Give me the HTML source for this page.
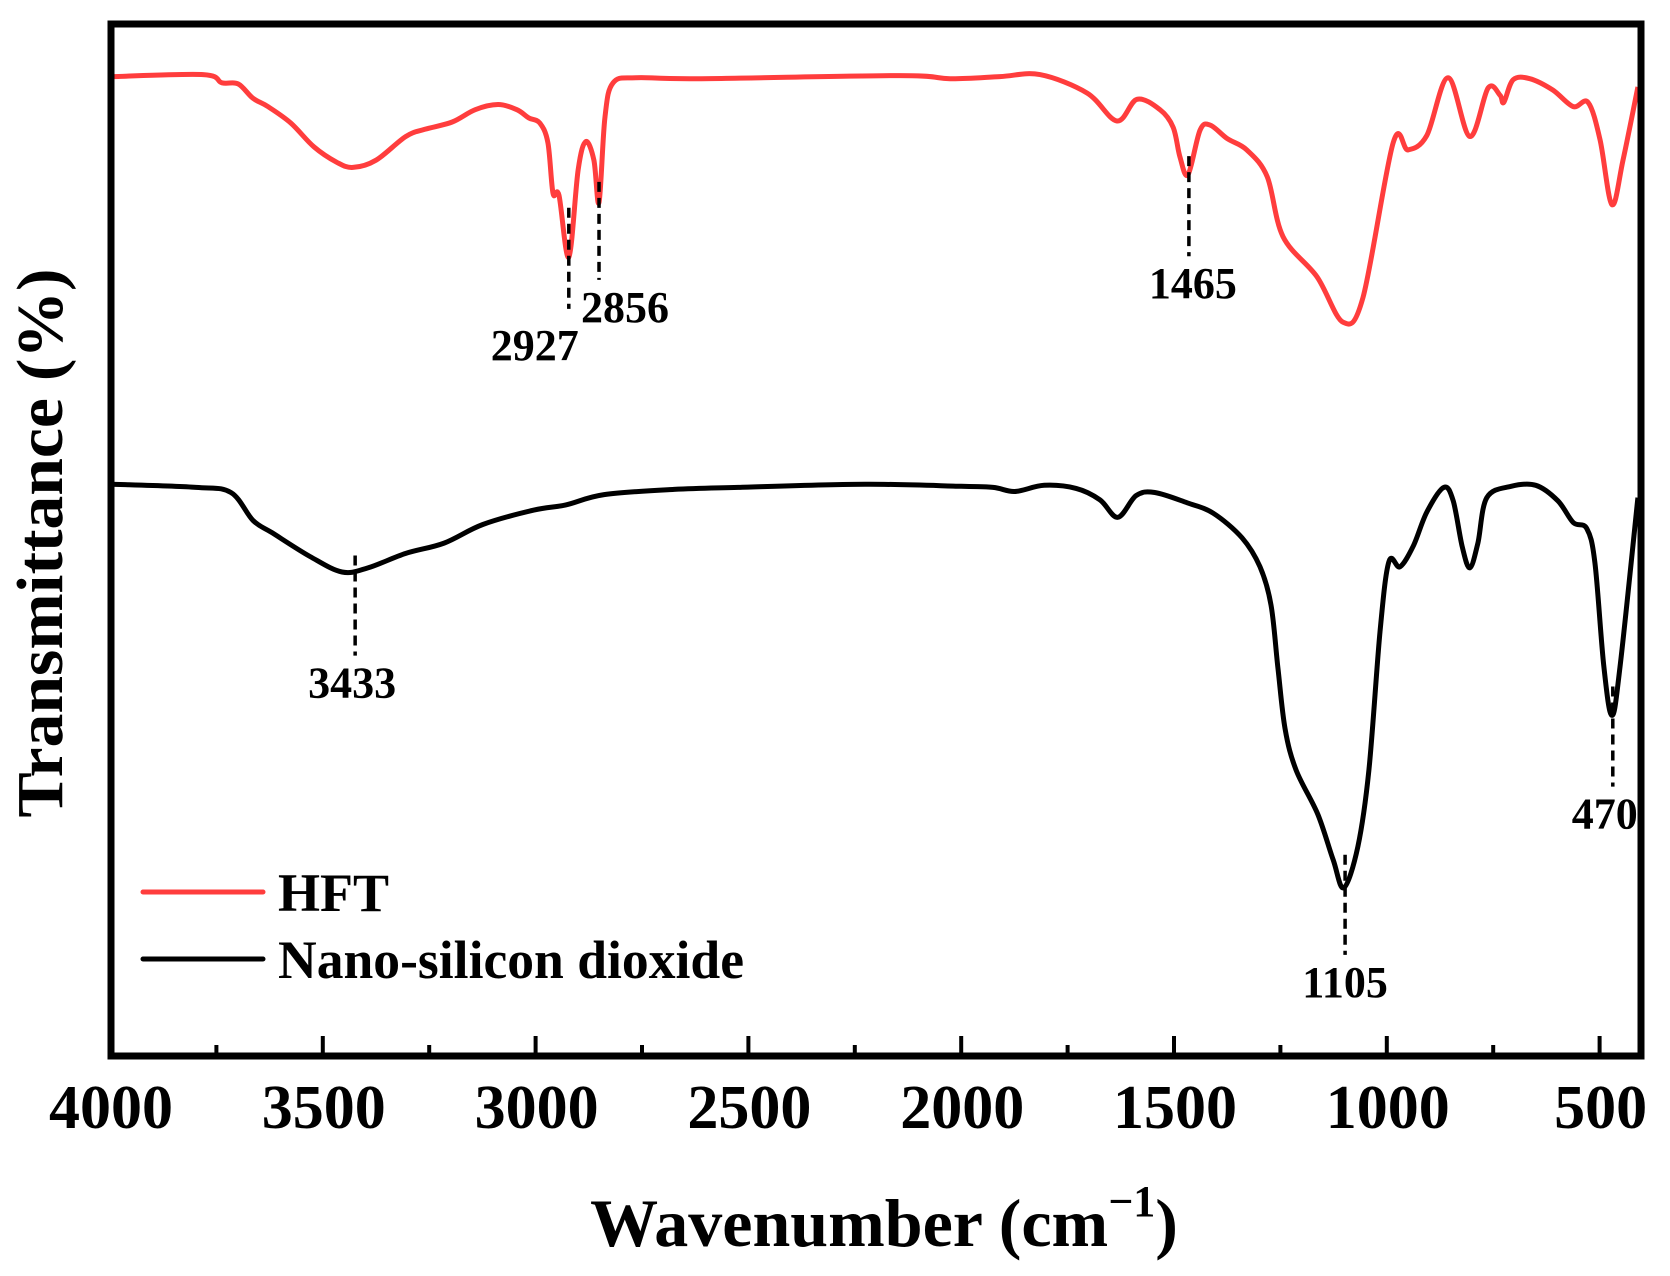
<!DOCTYPE html>
<html><head><meta charset="utf-8"><style>
html,body{margin:0;padding:0;background:#fff;}
svg{display:block;}
text{font-family:"Liberation Serif",serif;font-weight:bold;fill:#000;}
</style></head><body>
<svg id="chart" width="1670" height="1276" viewBox="0 0 1670 1276" xmlns="http://www.w3.org/2000/svg">
<defs><clipPath id="plotclip"><rect x="111" y="24" width="1530" height="1032"/></clipPath></defs>
<g id="ticks"></g>
<g id="ticklabels"></g>
<g id="series" clip-path="url(#plotclip)"></g>
<g id="annots"></g>
<rect x="111" y="24" width="1530" height="1032" fill="none" stroke="#000" stroke-width="7"/>
<text x="884" y="1246" text-anchor="middle" font-size="68">Wavenumber (cm<tspan font-size="44" dy="-30">−1</tspan><tspan dy="30">)</tspan></text>
<text transform="translate(62,543) rotate(-90)" text-anchor="middle" font-size="66" textLength="549" lengthAdjust="spacingAndGlyphs">Transmittance (%)</text>
<g>
<line x1="143" y1="892" x2="263" y2="892" stroke="#ff3d3d" stroke-width="5" stroke-linecap="round"/>
<text x="278" y="911" font-size="54">HFT</text>
<line x1="143" y1="959" x2="263" y2="959" stroke="#000" stroke-width="5" stroke-linecap="round"/>
<text x="278" y="978" font-size="54" textLength="466" lengthAdjust="spacingAndGlyphs">Nano-silicon dioxide</text>
</g>
</svg>
<script>
const tickMajor = [3500,3000,2500,2000,1500,1000,500];
const tickLabels = [4000,3500,3000,2500,2000,1500,1000,500];
const tickMinor = [3750,3250,2750,2250,1750,1250,750];
const hftWave = [3993,3781,3737,3699,3664,3629,3575,3521,3467,3429,3375,3305,3260,3196,3142,3088,3044,3016,2990,2971,2959,2945,2922,2900,2882,2863,2851,2837,2818,2764,2621,2144,2026,1909,1815,1704,1634,1587,1533,1502,1486,1467,1439,1415,1375,1329,1281,1244,1164,1103,1056,985,950,906,856,805,762,734,725,703,664,610,562,527,499,471,445,410];
const hftT = [94.9,95.1,94.3,94.2,92.8,92.0,90.4,88.1,86.6,86.1,86.8,89.1,89.8,90.5,91.7,92.2,91.7,90.9,90.4,88.5,83.6,83.4,77.4,85.9,88.6,86.8,82.7,91.0,94.3,94.8,94.7,95.0,94.7,94.9,95.1,93.3,90.6,92.7,91.7,90.0,87.1,85.4,89.7,90.2,88.9,87.8,85.2,79.4,75.5,71.1,73.5,88.5,87.8,89.2,94.8,89.1,93.8,93.1,92.4,94.6,94.7,93.6,92.0,92.4,88.8,82.5,86.8,93.9];
const nanoWave = [3993,3798,3716,3664,3619,3530,3455,3394,3305,3215,3124,3004,2929,2839,2675,2524,2226,2000,1925,1874,1805,1730,1674,1632,1589,1545,1469,1408,1340,1298,1272,1256,1239,1213,1162,1126,1101,1068,1042,1016,995,969,938,906,866,844,823,805,786,765,708,650,598,562,530,511,490,471,452,410];
const nanoT = [55.4,55.1,54.6,51.9,50.7,48.4,46.9,47.3,48.7,49.7,51.5,52.9,53.4,54.4,54.9,55.1,55.4,55.2,55.1,54.7,55.3,55.0,53.9,52.2,54.3,54.6,53.6,52.6,50.2,47.4,43.7,37.7,31.7,27.7,23.4,19.0,16.3,20.3,27.7,41.1,47.9,47.4,49.4,52.7,55.1,53.8,49.4,47.3,49.7,54.1,55.2,55.3,53.8,51.7,51.1,47.8,37.7,33.0,37.7,54.1];
const peakLabels = ["2927","2856","1465","3433","1105","470"];
const peakWave = [2922,2851,1465,3424,1098,469];
const peakTop = [82.2,84.7,87.2,48.5,19.5,35.8];
const peakBottom = [72.4,75.2,77.5,38.8,9.8,26.1];

const X = w => 110 + (4000 - w) * 0.4256;
const Y = v => 1056 - v * 10.32;
const NS = "http://www.w3.org/2000/svg";
function mk(tag, attrs, parent){const e=document.createElementNS(NS,tag);for(const k in attrs)e.setAttribute(k,attrs[k]);parent.appendChild(e);return e;}

const gT = document.getElementById('ticks');
tickMajor.forEach(w=>{const l=mk('line',{x1:X(w),x2:X(w),y1:1053,y2:1036,stroke:'#000','stroke-width':4},gT);

});
tickMinor.forEach(w=>{const l=mk('line',{x1:X(w),x2:X(w),y1:1053,y2:1045,stroke:'#000','stroke-width':4},gT);

});
const gL = document.getElementById('ticklabels');
tickLabels.forEach(w=>{const t=mk('text',{x:X(w)+1,y:1128,'text-anchor':'middle','font-size':62},gL);t.textContent=String(w);

});

function smooth(xs, ys){
  const p = xs.map((w,i)=>[X(w),Y(ys[i])]);
  let d = 'M'+p[0][0].toFixed(1)+','+p[0][1].toFixed(1);
  for(let i=0;i<p.length-1;i++){
    const p0=p[Math.max(0,i-1)],p1=p[i],p2=p[i+1],p3=p[Math.min(p.length-1,i+2)];
    const c1=[p1[0]+(p2[0]-p0[0])/6,p1[1]+(p2[1]-p0[1])/6];
    const c2=[p2[0]-(p3[0]-p1[0])/6,p2[1]-(p3[1]-p1[1])/6];
    d+='C'+c1[0].toFixed(1)+','+c1[1].toFixed(1)+' '+c2[0].toFixed(1)+','+c2[1].toFixed(1)+' '+p2[0].toFixed(1)+','+p2[1].toFixed(1);
  }
  return d;
}
const gS = document.getElementById('series');
const rp = mk('path',{d:smooth(hftWave,hftT),fill:'none',stroke:'#ff3d3d','stroke-width':5,'stroke-linejoin':'round'},gS);


const bp = mk('path',{d:smooth(nanoWave,nanoT),fill:'none',stroke:'#000','stroke-width':5,'stroke-linejoin':'round'},gS);



const labelDX = [-34,26,4,-3,0,-8];
const gA = document.getElementById('annots');
peakLabels.forEach((lab,i)=>{
  const x = X(peakWave[i]);
  const l = mk('line',{x1:x,x2:x,y1:Y(peakTop[i]),y2:Y(peakBottom[i]),stroke:'#000','stroke-width':3.5,'stroke-dasharray':'10 6'},gA);
  
  
  const t = mk('text',{x:x+labelDX[i],y:Y(peakBottom[i])+(i===0?51:42),'text-anchor':'middle','font-size':44},gA);
  t.textContent = lab;
  
  
});
</script>
</body></html>
